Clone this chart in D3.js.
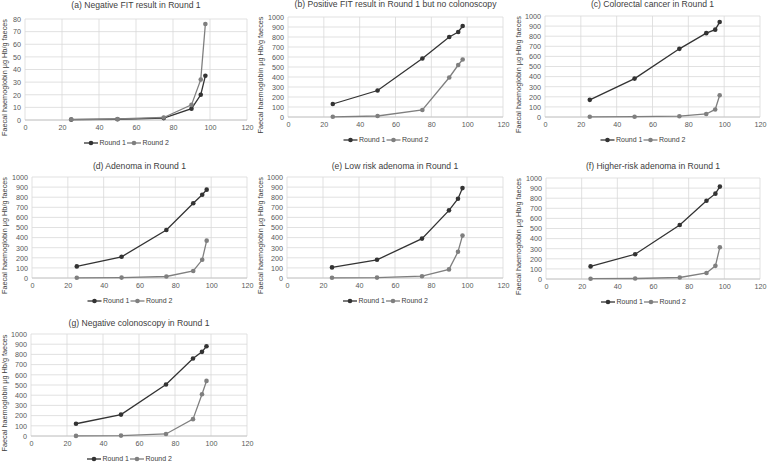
<!DOCTYPE html>
<html><head><meta charset="utf-8">
<script src="https://cdn.jsdelivr.net/npm/d3@7"></script>
<style>body{margin:0;background:#fff}svg{display:block}</style>
</head><body>
<svg id="c" width="767" height="462"></svg>
<script>
const percentiles = [25, 50, 75, 90, 95, 97.5];
const seriesNames = ["Round 1", "Round 2"];
const titles = [
  "(a) Negative FIT result in Round 1",
  "(b) Positive FIT result in Round 1 but no colonoscopy",
  "(c) Colorectal cancer in Round 1",
  "(d) Adenoma in Round 1",
  "(e) Low risk adenoma in Round 1",
  "(f) Higher-risk adenoma in Round 1",
  "(g) Negative colonoscopy in Round 1"
];
const round1 = [
  [0.3, 0.6, 1.5, 9, 20, 35],
  [130, 265, 585, 800, 850, 910],
  [170, 380, 675, 830, 865, 940],
  [115, 210, 475, 740, 825, 875],
  [105, 180, 390, 670, 785, 890],
  [125, 245, 535, 775, 845, 915],
  [120, 210, 505, 760, 825, 880]
];
const round2 = [
  [0.4, 0.8, 2, 12, 32, 76],
  [2, 10, 70, 395, 520, 575],
  [2, 3, 8, 30, 75, 215],
  [2, 4, 15, 70, 180, 370],
  [2, 4, 18, 85, 260, 420],
  [3, 5, 15, 60, 130, 315],
  [1, 4, 20, 165, 410, 540]
];
const yMax = [80, 1000, 1000, 1000, 1000, 1000, 1000];
const yStep = [10, 100, 100, 100, 100, 100, 100];
const xTicks = [0, 20, 40, 60, 80, 100, 120];
const yLabel = "Faecal haemoglobin µg Hb/g faeces";

// layout (plot rectangles)
const layout = [
  {l:25,  r:247, t:19,  b:120, title:6,  lab:5},
  {l:288, r:503, t:17,  b:117, title:5,  lab:261},
  {l:545, r:760, t:16,  b:117, title:5,  lab:519},
  {l:32,  r:247, t:177, b:278, title:167, lab:5},
  {l:287, r:503, t:177, b:278, title:167, lab:261},
  {l:546, r:760, t:178, b:279, title:167, lab:519},
  {l:31,  r:247, t:334, b:436, title:324, lab:5}
];
const colors = ["#333333", "#7f7f7f"];
const font = "Liberation Sans, Arial, sans-serif";
const svg = d3.select("#c");

titles.forEach((title, i) => {
  const L = layout[i];
  const g = svg.append("g");
  const x = d3.scaleLinear().domain([0, 120]).range([L.l, L.r]);
  const y = d3.scaleLinear().domain([0, yMax[i]]).range([L.b, L.t]);
  const yTicks = d3.range(0, yMax[i] + 1e-9, yStep[i]);

  g.append("g").selectAll("line").data(yTicks).join("line")
    .attr("x1", L.l).attr("x2", L.r)
    .attr("y1", d => y(d)).attr("y2", d => y(d))
    .attr("stroke", "#d9d9d9").attr("stroke-width", 0.8);
  g.append("g").selectAll("line").data(xTicks).join("line")
    .attr("y1", L.t).attr("y2", L.b)
    .attr("x1", d => x(d)).attr("x2", d => x(d))
    .attr("stroke", "#d9d9d9").attr("stroke-width", 0.8);
  g.append("line").attr("x1", L.l).attr("x2", L.r).attr("y1", L.b).attr("y2", L.b)
    .attr("stroke", "#bfbfbf").attr("stroke-width", 0.8);

  const ya = d3.axisLeft(y).tickValues(yTicks).tickFormat(d3.format("d")).tickSize(0).tickPadding(4);
  const xa = d3.axisBottom(x).tickValues(xTicks).tickFormat(d3.format("d")).tickSize(0).tickPadding(5);
  const gy = g.append("g").attr("transform", `translate(${L.l},0)`).call(ya);
  const gx = g.append("g").attr("transform", `translate(0,${L.b})`).call(xa);
  [gy, gx].forEach(a => {
    a.select(".domain").remove();
    a.selectAll("text").attr("font-family", font).attr("font-size", 7.2).attr("fill", "#595959");
  });

  g.append("text").attr("x", (L.l + L.r) / 2).attr("y", L.title)
    .attr("text-anchor", "middle").attr("dominant-baseline", "middle")
    .attr("font-family", font).attr("font-size", 8.6).attr("fill", "#404040").text(title);

  g.append("text")
    .attr("transform", `translate(${L.lab},${(L.t + L.b) / 2 + 8}) rotate(-90)`)
    .attr("text-anchor", "middle").attr("dominant-baseline", "middle")
    .attr("font-family", font).attr("font-size", 7.3).attr("fill", "#404040").text(yLabel);

  [round1[i], round2[i]].forEach((vals, s) => {
    const pts = percentiles.map((p, k) => [p, vals[k]]);
    g.append("path").datum(pts)
      .attr("d", d3.line().x(d => x(d[0])).y(d => y(d[1])))
      .attr("fill", "none").attr("stroke", colors[s]).attr("stroke-width", 1.3);
    g.append("g").selectAll("circle").data(pts).join("circle")
      .attr("cx", d => x(d[0])).attr("cy", d => y(d[1])).attr("r", 2.3)
      .attr("fill", colors[s]);
  });

  const ly = L.b + 23;
  const cx = (L.l + L.r) / 2;
  const starts = [cx - 52, cx - 9];
  seriesNames.forEach((name, s) => {
    const x0 = starts[s];
    g.append("line").attr("x1", x0).attr("x2", x0 + 14).attr("y1", ly).attr("y2", ly)
      .attr("stroke", colors[s]).attr("stroke-width", 1.3);
    g.append("circle").attr("cx", x0 + 7).attr("cy", ly).attr("r", 2.3).attr("fill", colors[s]);
    g.append("text").attr("x", x0 + 15.5).attr("y", ly).attr("dominant-baseline", "middle")
      .attr("font-family", font).attr("font-size", 7).attr("fill", "#404040").text(name);
  });
});
</script>
</body></html>
